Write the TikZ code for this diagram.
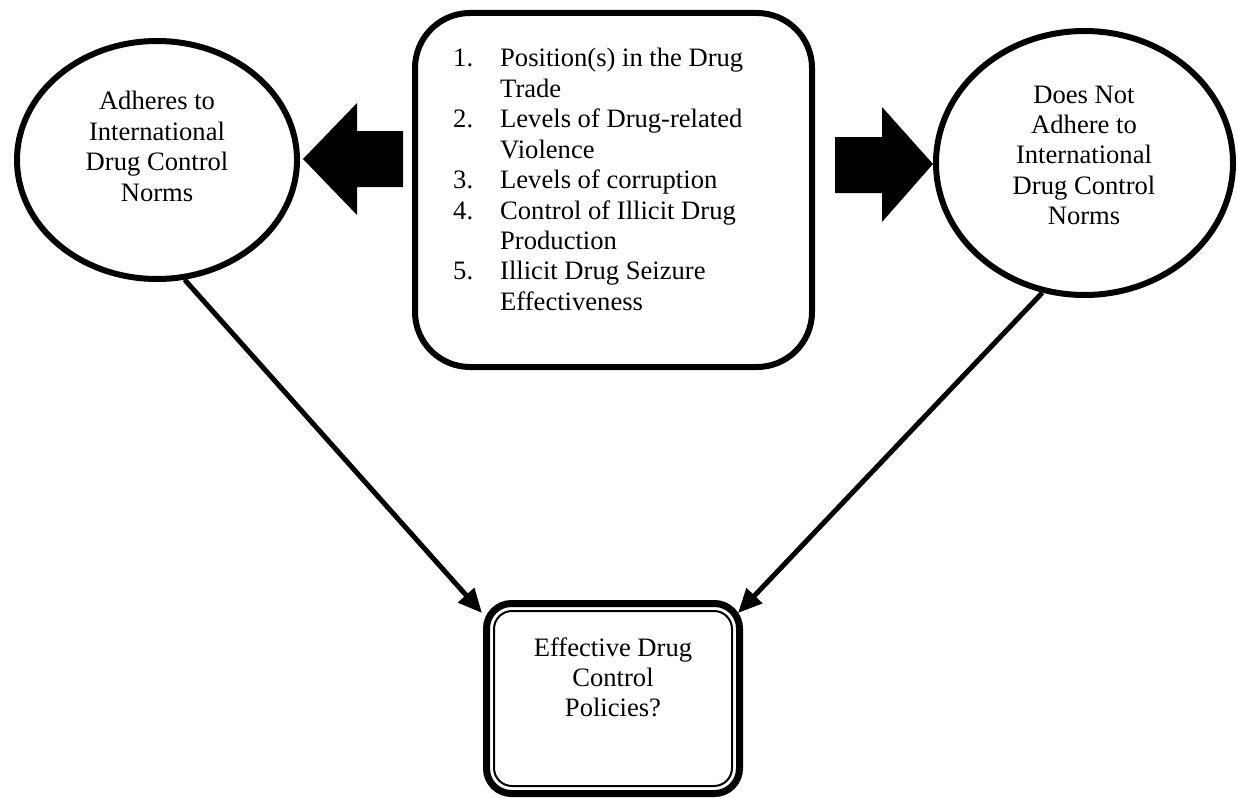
\documentclass[tikz,border=0pt]{standalone}
\usepackage{fontspec}
\setmainfont{Liberation Serif}
\usetikzlibrary{arrows.meta,shapes.geometric,calc}
\begin{document}
\begin{tikzpicture}[x=1pt,y=-1pt,
  every node/.style={inner sep=0pt},
  txt/.style={font=\fontsize{26.6pt}{30.4pt}\selectfont, anchor=base},
  oval/.style={draw, ellipse, line width=6pt},
  conn/.style={line width=5pt, -{Triangle[length=24pt,width=21pt]}},
  blockarrow/.style={fill=black}]
\useasboundingbox (0,0) rectangle (1238,797);

% central box
\node[draw, line width=6pt, rounded corners=55pt, minimum width=397pt, minimum height=354pt] (factors) at (613.5,190) {};
\node[txt, anchor=base west] (listText) at (453,67) {\begin{tabular}[t]{@{}p{47pt}@{}l@{}}
1.&Position(s) in the Drug\\
  &Trade\\
2.&Levels of Drug-related\\
  &Violence\\
3.&Levels of corruption\\
4.&Control of Illicit Drug\\
  &Production\\
5.&Illicit Drug Seizure\\
  &Effectiveness
\end{tabular}};

% left oval
\node[oval, minimum width=280pt, minimum height=238pt] (adheres) at (157,160) {};
\node[txt] (adheresText) at (157,110) {\begin{tabular}[t]{@{}c@{}}Adheres to\\International\\Drug Control\\Norms\end{tabular}};

% right oval
\node[oval, minimum width=297pt, minimum height=264pt] (notadheres) at (1084.5,163) {};
\node[txt] (notadheresText) at (1084,103) {\begin{tabular}[t]{@{}c@{}}Does Not\\Adhere to\\International\\Drug Control\\Norms\end{tabular}};

% bottom box
\node[draw, line width=7pt, rounded corners=25pt, minimum width=253pt, minimum height=190pt] (policies) at (613,698.5) {};
\draw[line width=2pt, rounded corners=18pt] ($(policies.north west)+(11,11)$) rectangle ($(policies.south east)+(-11,-11)$);
\node[txt] (policiesText) at (613,656) {\begin{tabular}[t]{@{}c@{}}Effective Drug\\Control\\Policies?\end{tabular}};

% block arrows
\fill[blockarrow] ($(adheres.east)+(3,-1)$) -- ++(54,-56) -- ++(0,28) -- ++(46,0) -- ++(0,56) -- ++(-46,0) -- ++(0,28) -- cycle;
\fill[blockarrow] ($(notadheres.west)+(0,1)$) -- ++(-51,-57) -- ++(0,30) -- ++(-47,0) -- ++(0,56) -- ++(47,0) -- ++(0,29) -- cycle;

% connectors
\draw[conn] (adheres.-77) -- ($(policies.north west)+(-1,13)$);
\draw[conn] (notadheres.-108) -- ($(policies.north east)+(-5,13)$);
\end{tikzpicture}
\end{document}
